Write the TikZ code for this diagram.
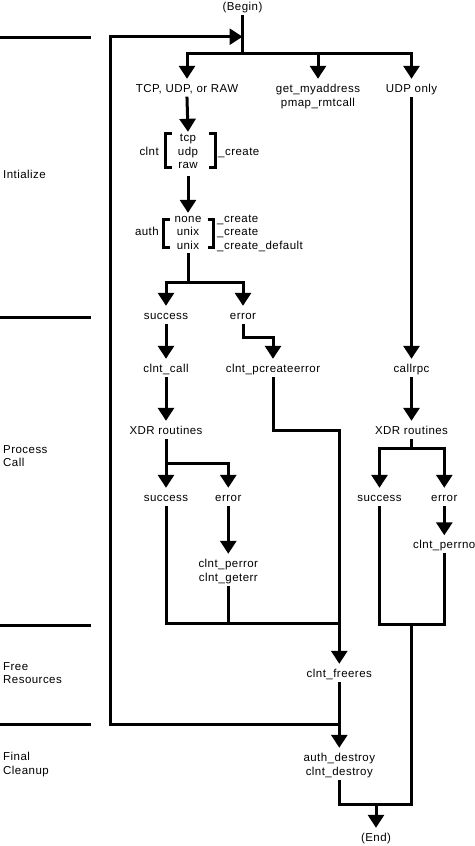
\documentclass[tikz,border=0pt]{standalone}
\usepackage{fontspec}
\setmainfont{Liberation Sans}[LetterSpace=4]
\usetikzlibrary{arrows.meta}
\begin{document}
\begin{tikzpicture}[x=1pt,y=-1pt,
  ln/.style={line width=3pt,line cap=rect,line join=miter},
  ar/.style={line width=3pt,line cap=rect,line join=miter,-{Triangle[length=13pt,width=16pt]}},
  brk/.style={line width=3pt,line cap=butt,line join=miter},
  bar/.style={line width=3pt,line cap=butt},
  lb/.style={font=\fontsize{11.5}{13}\selectfont,inner xsep=1pt,inner ysep=5pt,text height=8pt,text depth=1pt,anchor=base},
  sk/.style={lb,inner ysep=1pt},
  lw/.style={font=\fontsize{11.5}{13}\selectfont,inner sep=0pt,anchor=base west},
  le/.style={font=\fontsize{11.5}{13}\selectfont,inner sep=0pt,anchor=base east}]
\useasboundingbox (0,0) rectangle (474,846);

% section bars and labels
\draw[bar] (0,37) -- (90.7,37);
\draw[bar] (0,317.3) -- (90.7,317.3);
\draw[bar] (0,625) -- (90.7,625);
\draw[bar] (0,724.3) -- (90.7,724.3);
\node[lw] (s1) at (3,178) {Intialize};
\node[lw] (s2a) at (3,453.3) {Process};
\node[lw] (s2b) at (3,466.5) {Call};
\node[lw] (s3a) at (3,670) {Free};
\node[lw] (s3b) at (3,683) {Resources};
\node[lw] (s4a) at (3,760.5) {Final};
\node[lw] (s4b) at (3,774) {Cleanup};

% nodes
\node[lb] (begin) at (242.5,10) {(Begin)};
\node[lb] (tcp) at (187,92) {TCP, UDP, or RAW};
\node[lb] (gma) at (318,92) {get\_myaddress};
\node[lb] (pmap) at (318,106) {pmap\_rmtcall};
\node[lb] (udp) at (411.5,92) {UDP only};

\node[le] (clntw) at (159,155) {clnt};
\node[sk] (ctcp) at (188,141) {tcp};
\node[sk] (cudp) at (188,155) {udp};
\node[sk] (craw) at (188,168.5) {raw};
\node[lw] (ccr) at (218,155) {\_create};

\node[le] (authw) at (159,235.5) {auth};
\node[sk] (anone) at (188,222) {none};
\node[sk] (aunix) at (188,235.5) {unix};
\node[sk] (aunixb) at (188,249) {unix};
\node[lw] (acr1) at (217,222) {\_create};
\node[lw] (acr2) at (217,235.5) {\_create};
\node[lw] (acr3) at (217,249) {\_create\_default};

\node[lb] (succ) at (166,319) {success};
\node[lb] (err) at (243,319) {error};
\node[lb] (ccall) at (166,372) {clnt\_call};
\node[lb] (pcr) at (273,372) {clnt\_pcreateerror};
\node[lb] (crpc) at (411.5,372) {callrpc};
\node[lb] (xdr1) at (166,434) {XDR routines};
\node[lb] (xdr2) at (411.5,434) {XDR routines};
\node[lb] (succ2) at (166,501) {success};
\node[lb] (err2) at (228.3,501) {error};
\node[lb] (succ3) at (379.5,501) {success};
\node[lb] (err3) at (444.3,501) {error};
\node[lb] (perrno) at (444.3,548.5) {clnt\_perrno};
\node[lb] (perr) at (228.3,567) {clnt\_perror};
\node[lb] (geterr) at (228.3,581) {clnt\_geterr};
\node[lb] (free) at (339.3,677) {clnt\_freeres};
\node[lb] (ades) at (339.3,761) {auth\_destroy};
\node[lb] (cdes) at (339.3,775) {clnt\_destroy};
\node[lb] (end) at (376,841) {(End)};

% brackets
\draw[brk] (171.5,133) -- (165,133) -- (165,167) -- (171.5,167);
\draw[brk] (208.5,133) -- (215,133) -- (215,167) -- (208.5,167);
\draw[brk] (169.5,219.8) -- (163.5,219.8) -- (163.5,247.5) -- (169.5,247.5);
\draw[brk] (207.5,219.8) -- (213.5,219.8) -- (213.5,247.5) -- (207.5,247.5);

% junction coordinates
\coordinate (j0) at (242.5,53);
\coordinate (jb) at (242.5,36.7);
\coordinate (lp) at (110,36.7);
\coordinate (j1) at (188,282);
\coordinate (j2) at (166,463);
\coordinate (j3) at (411.5,448);
\coordinate (jm) at (339.3,623);
\coordinate (jr) at (411.5,624);
\coordinate (jf) at (339.3,724.3);
\coordinate (je) at (376,804);

% connectors
\draw[ln] (begin.south) -- (j0);
\draw[ar] (j0) -| (tcp.north);
\draw[ar] (j0) -| (udp.north);
\draw[ar] (gma.north |- j0) -- (gma.north);
\draw[ar] (tcp.south) -- (ctcp.north);
\draw[ar] ([yshift=-7pt]craw.south) -- (anone.north);
\draw[ln] ([yshift=-3pt]aunixb.south) -- (j1);
\draw[ar] (j1) -| (succ.north);
\draw[ar] (j1) -| (err.north);
\draw[ar] (succ.south) -- (ccall.north);
\draw[ar] (err.south) -- ++(0,12) -| (pcr.north);
\draw[ar] (ccall.south) -- (xdr1.north);
\draw[ar] (pcr.south) -- ++(0,52) -| (free.north);
\draw[ar] (xdr1.south) -- (succ2.north);
\draw[ar] (j2) -| (err2.north);
\draw[ar] (err2.south) -- (perr.north);
\draw[ln] (succ2.south) |- (jm);
\draw[ln] (geterr.south) -- (geterr.south |- jm);
\draw[ar] (udp.south) -- (crpc.north);
\draw[ar] (crpc.south) -- (xdr2.north);
\draw[ln] (xdr2.south) -- (j3);
\draw[ar] (j3) -| (succ3.north);
\draw[ar] (j3) -| (err3.north);
\draw[ar] (err3.south) -- (perrno.north);
\draw[ln] (succ3.south) |- (jr) -| (perrno.south);
\draw[ln] (jr) |- (je);
\draw[ln] (cdes.south) |- (je);
\draw[ar] (je) -- (end.north);
\draw[ar] (free.south) -- (ades.north);
\draw[ar] (jf) -| (lp) -- (jb);
\end{tikzpicture}
\end{document}
